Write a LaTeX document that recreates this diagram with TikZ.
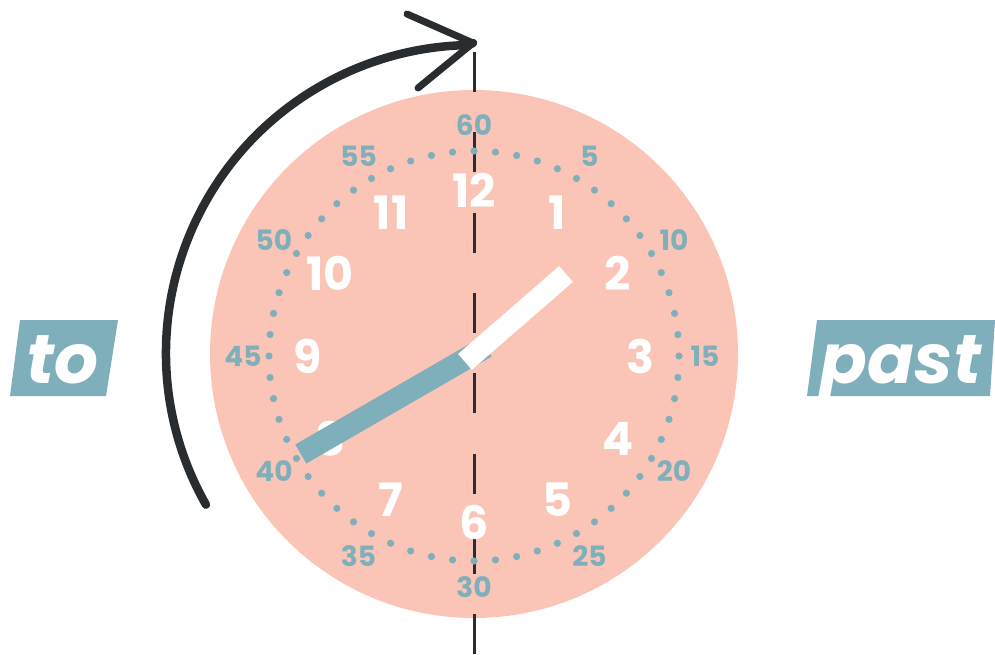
\documentclass[tikz,border=0pt]{standalone}
\usepackage{fontspec}
\setmainfont{Poppins}
\usetikzlibrary{calc,positioning}
\definecolor{facecolor}{RGB}{250,197,182}
\definecolor{tealcolor}{RGB}{127,175,187}
\definecolor{inkcolor}{RGB}{42,45,48}
\tikzset{
  hourlbl/.style={white, inner sep=0pt, font=\bfseries\fontsize{46}{46}\selectfont},
  minlbl/.style={tealcolor, inner sep=0pt, font=\bfseries\fontsize{28}{28}\selectfont},
  handln/.style={line cap=butt, line width=#1},
  sweepln/.style={inkcolor, line width=8.5pt, line cap=round, line join=round},
  axisln/.style={inkcolor, line width=3pt, dash pattern=on 40pt off 40.3pt},
  wordlbl/.style={white, inner sep=0pt, anchor=base, font=\bfseries\itshape\fontsize{69}{69}\selectfont},
}
\newcommand{\wordbox}[4]{%
  \fill[tealcolor] #1 -- #2 -- #3 -- #4 -- cycle;
}

\begin{document}
\begin{tikzpicture}[x=1pt, y=-1pt]
    \useasboundingbox (0,0) rectangle (995,654);
    \coordinate (facec) at (474,354);
    \coordinate (dialc) at (474,356);
    % clock face
    \fill[facecolor] (facec) circle (264);
    % vertical axis
    \coordinate (axtop) at (474,52);
    \coordinate (axbot) at (474,654);
    \draw[axisln] (axtop) -- (axbot);
    % minute dots and labels
    \foreach \k in {0,...,59}
      \fill[tealcolor] ($(dialc)+(\k*6-90:205)$) circle (3.6);
    \foreach \k in {5,10,...,60}
      \node[minlbl] (m\k) at ($(dialc)+(\k*6-90:231)$) {\k};
    % hour numbers
    \foreach \h in {1,...,12}
      \node[hourlbl] (h\h) at ($(dialc)+(\h*30-90:166)$) {\h};
    % hands
    \coordinate (mintail) at ($(facec)+(330:14)$);
    \coordinate (mintip) at ($(facec)+(150:200)$);
    \draw[handln=22pt, tealcolor] (mintail) -- (mintip);
    \coordinate (hrtail) at ($(facec)+(139:12)$);
    \coordinate (hrtip) at ($(facec)+(-41:122)$);
    \draw[handln=21pt, white] (hrtail) -- (hrtip);
    % sweep arrow
    \coordinate (sweepstart) at ($(474,353)+(150.5:308)$);
    \coordinate (tip) at (473,43);
    \coordinate (armup) at (407,14);
    \coordinate (armlow) at (418,88);
    \draw[sweepln] (sweepstart) arc[start angle=150.5, end angle=269, radius=308] -- (tip);
    \draw[sweepln, line width=7pt] (armup) -- (tip) -- (armlow);
    % to / past
    \wordbox{(20,320)}{(118,320)}{(106,396)}{(10,396)}
    \node[wordlbl] (towd) at (62,383) {to};
    \wordbox{(817,320)}{(995,320)}{(990,396)}{(807,396)}
    \node[wordlbl] (pastwd) at (901,383) {past};
  \end{tikzpicture}
\end{document}
